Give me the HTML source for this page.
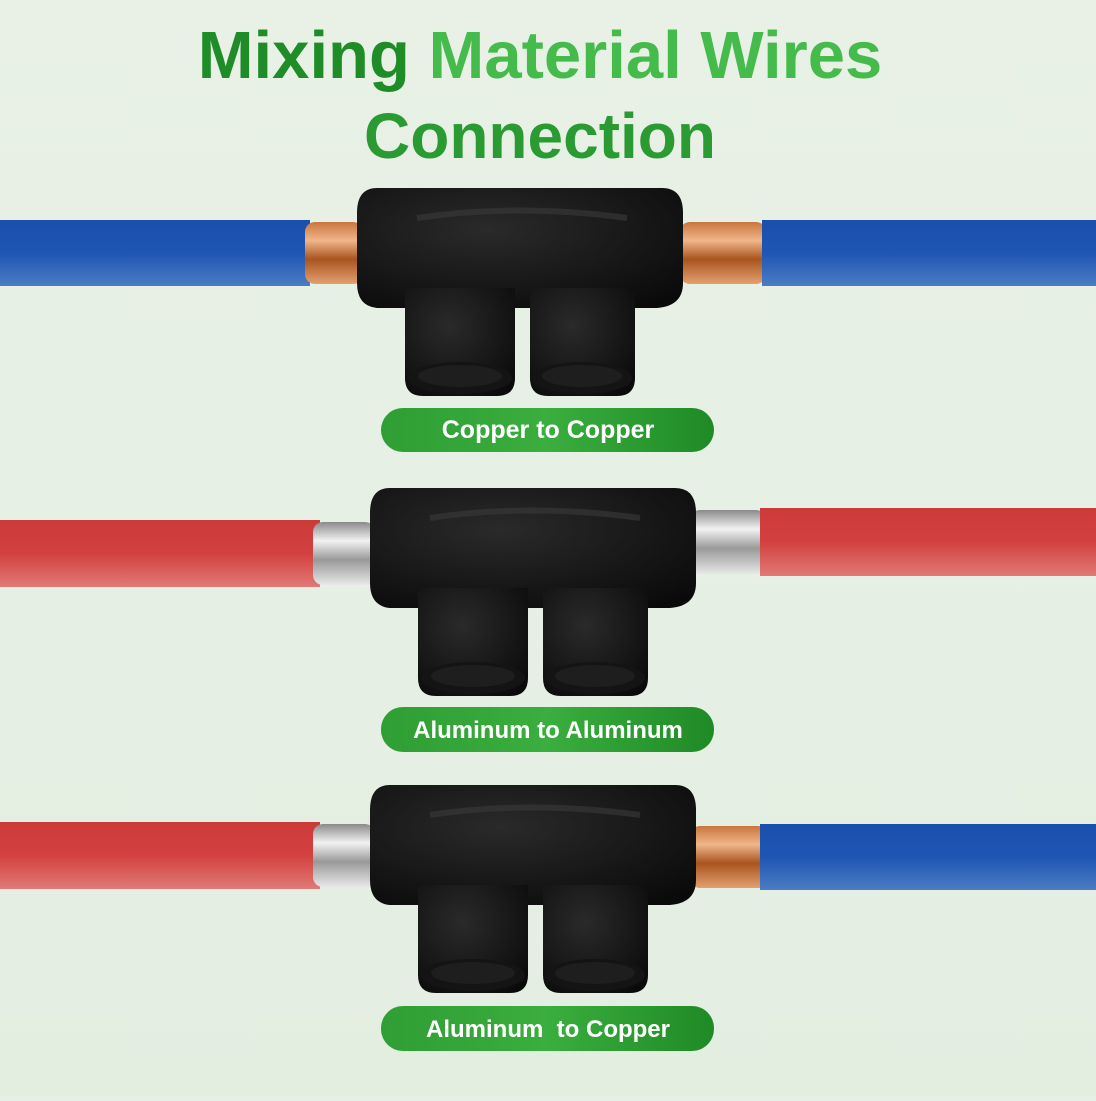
<!DOCTYPE html>
<html><head><meta charset="utf-8"><style>
html,body{margin:0;padding:0;}
body{width:1096px;height:1096px;overflow:hidden;background:#e7f0e5;font-family:"Liberation Sans","DejaVu Sans",sans-serif;}
</style></head><body>
<svg width="1096" height="1096" viewBox="0 0 1096 1096" xmlns="http://www.w3.org/2000/svg">
<defs>
<linearGradient id="bg" x1="0" y1="0" x2="0" y2="1"><stop offset="0" stop-color="#e9f1e7"/><stop offset="1" stop-color="#e3eee1"/></linearGradient>
<linearGradient id="blue" x1="0" y1="0" x2="0" y2="1"><stop offset="0" stop-color="#1a4fae"/><stop offset="0.5" stop-color="#1f55b3"/><stop offset="1" stop-color="#4a7cc4"/></linearGradient>
<linearGradient id="red" x1="0" y1="0" x2="0" y2="1"><stop offset="0" stop-color="#cc3a3a"/><stop offset="0.5" stop-color="#d2413f"/><stop offset="1" stop-color="#e07a75"/></linearGradient>
<linearGradient id="cu" x1="0" y1="0" x2="0" y2="1"><stop offset="0" stop-color="#c9753f"/><stop offset="0.3" stop-color="#f0b68a"/><stop offset="0.6" stop-color="#a8541f"/><stop offset="1" stop-color="#e4a070"/></linearGradient>
<linearGradient id="al" x1="0" y1="0" x2="0" y2="1"><stop offset="0" stop-color="#8a8a8a"/><stop offset="0.3" stop-color="#f2f2f2"/><stop offset="0.6" stop-color="#999"/><stop offset="1" stop-color="#e8e8e8"/></linearGradient>
<linearGradient id="pill" x1="0" y1="0" x2="1" y2="0"><stop offset="0" stop-color="#2f9e34"/><stop offset="0.5" stop-color="#3aae3e"/><stop offset="1" stop-color="#1f8a26"/></linearGradient>
<radialGradient id="blk" cx="0.4" cy="0.35" r="0.8"><stop offset="0" stop-color="#2a2a2a"/><stop offset="1" stop-color="#0a0a0a"/></radialGradient>
<g id="conn">
  <path d="M20,0 H305 Q326,0 326,25 V95 Q326,118 300,120 H20 Q0,118 0,95 V25 Q0,0 20,0 Z" fill="url(#blk)"/>
  <path d="M48,100 H158 V190 Q158,208 140,208 H66 Q48,208 48,190 Z" fill="url(#blk)"/>
  <path d="M173,100 H278 V190 Q278,208 260,208 H191 Q173,208 173,190 Z" fill="url(#blk)"/>
  <ellipse cx="103" cy="190" rx="52" ry="16" fill="#141414"/>
  <ellipse cx="225" cy="190" rx="50" ry="16" fill="#141414"/>
  <ellipse cx="103" cy="188" rx="42" ry="11" fill="#1e1e1e"/>
  <ellipse cx="225" cy="188" rx="40" ry="11" fill="#1e1e1e"/>
  <path d="M60,30 Q160,15 270,30" stroke="#3a3a3a" stroke-width="6" fill="none" opacity="0.6"/>
</g>
</defs>
<rect width="1096" height="1096" fill="url(#bg)"/>
<text x="540" y="78" text-anchor="middle" font-size="67" font-weight="bold"><tspan fill="#1f8d27">Mixing </tspan><tspan fill="#45bb4b">Material Wires</tspan></text>
<text x="540" y="158" text-anchor="middle" font-size="64" font-weight="bold" fill="#2a9a32">Connection</text>

<!-- Row 1 -->
<rect x="0" y="220" width="310" height="66" fill="url(#blue)"/>
<rect x="305" y="222" width="58" height="62" rx="10" fill="url(#cu)"/>
<rect x="680" y="222" width="86" height="62" rx="10" fill="url(#cu)"/>
<rect x="762" y="220" width="334" height="66" fill="url(#blue)"/>
<use href="#conn" x="357" y="188"/>
<rect x="381" y="408" width="333" height="44" rx="22" fill="url(#pill)"/>
<text x="548" y="438" text-anchor="middle" font-size="25" font-weight="bold" fill="#fff">Copper to Copper</text>

<!-- Row 2 -->
<rect x="0" y="520" width="320" height="67" fill="url(#red)"/>
<rect x="313" y="522" width="62" height="63" rx="10" fill="url(#al)"/>
<rect x="690" y="510" width="76" height="64" rx="10" fill="url(#al)"/>
<rect x="760" y="508" width="336" height="68" fill="url(#red)"/>
<use href="#conn" x="370" y="488"/>
<rect x="381" y="707" width="333" height="45" rx="22" fill="url(#pill)"/>
<text x="548" y="738" text-anchor="middle" font-size="24" font-weight="bold" fill="#fff">Aluminum to Aluminum</text>

<!-- Row 3 -->
<rect x="0" y="822" width="320" height="67" fill="url(#red)"/>
<rect x="313" y="824" width="62" height="63" rx="10" fill="url(#al)"/>
<rect x="690" y="826" width="78" height="62" rx="10" fill="url(#cu)"/>
<rect x="760" y="824" width="336" height="66" fill="url(#blue)"/>
<use href="#conn" x="370" y="785"/>
<rect x="381" y="1006" width="333" height="45" rx="22" fill="url(#pill)"/>
<text x="548" y="1037" text-anchor="middle" font-size="24" font-weight="bold" fill="#fff" xml:space="preserve">Aluminum  to Copper</text>
</svg>
</body></html>
